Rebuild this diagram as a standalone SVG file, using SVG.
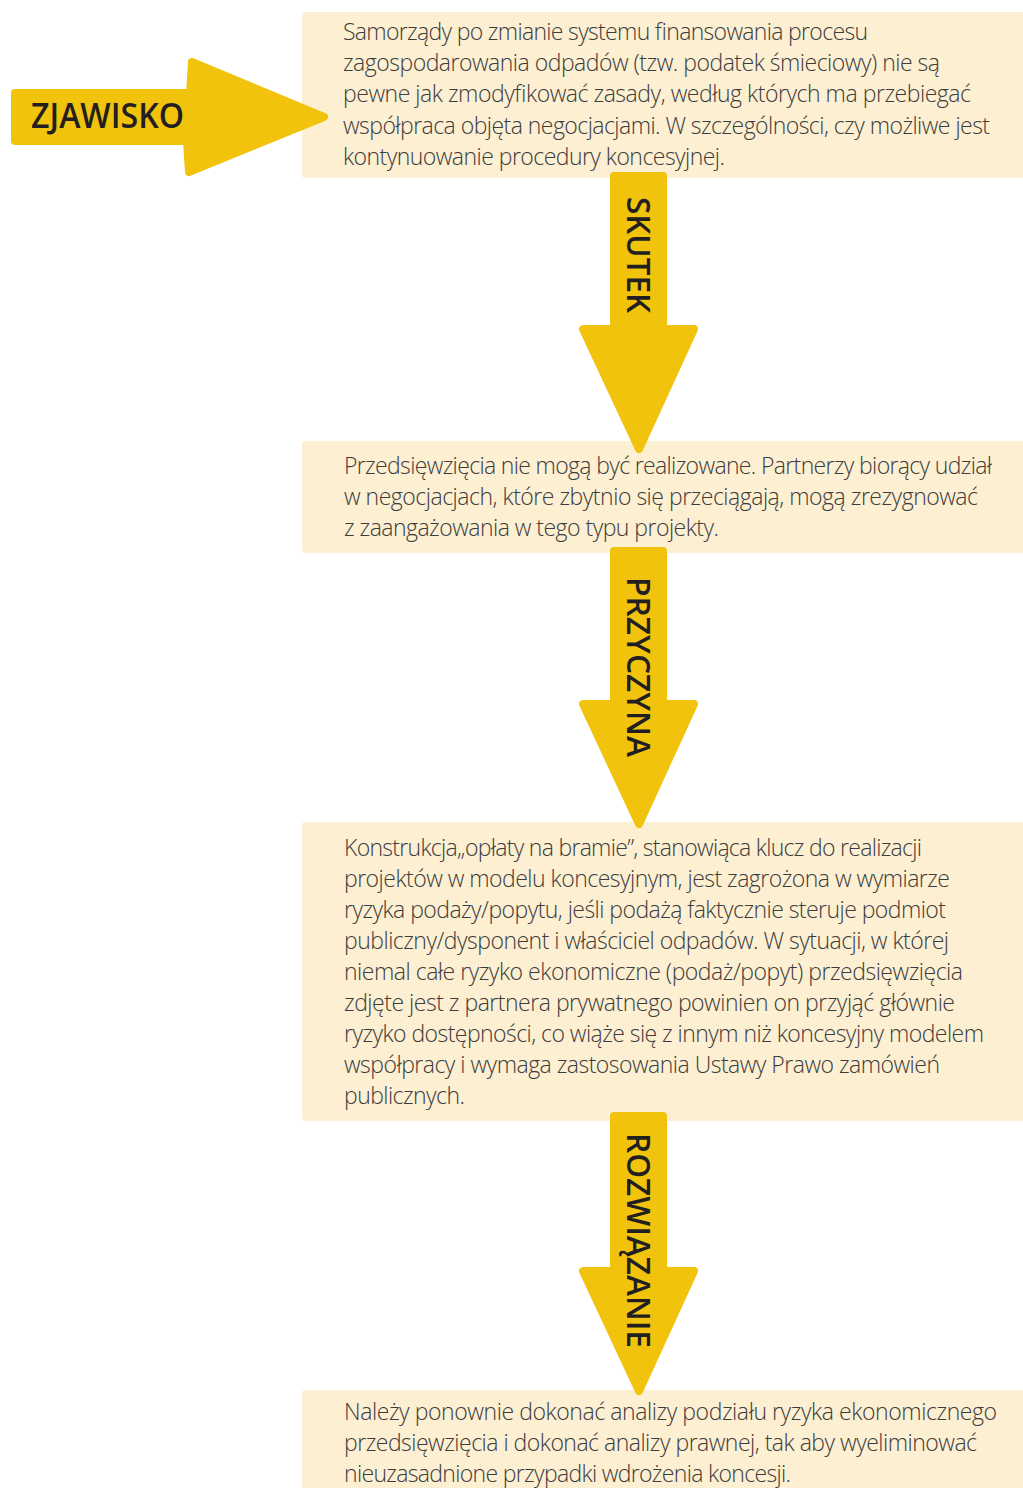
<svg xmlns="http://www.w3.org/2000/svg" width="1023" height="1488" viewBox="0 0 1023 1488">
<style>
.box{fill:#fdefd2}
.arrow{fill:#f1c30c;stroke:#f1c30c;stroke-width:8;stroke-linejoin:round}
.body{font-family:"Open Sans","Liberation Sans",sans-serif;font-weight:300;font-size:23px;fill:#3c3c3c}
.lbl{font-family:"Open Sans","Liberation Sans",sans-serif;font-weight:600;fill:#231f20}
</style>
<rect width="1023" height="1488" fill="#ffffff"/>
<g id="box1">
<rect class="box" x="302" y="12" width="730" height="166" rx="3"/>
<text class="body" lengthAdjust="spacingAndGlyphs">
<tspan x="343" y="40" textLength="525">Samorządy po zmianie systemu finansowania procesu</tspan>
<tspan x="343" y="71" textLength="597">zagospodarowania odpadów (tzw. podatek śmieciowy) nie są</tspan>
<tspan x="343" y="102" textLength="628">pewne jak zmodyfikować zasady, według których ma przebiegać</tspan>
<tspan x="343" y="134" textLength="647">współpraca objęta negocjacjami. W szczególności, czy możliwe jest</tspan>
<tspan x="343" y="165" textLength="382">kontynuowanie procedury koncesyjnej.</tspan>
</text>
</g>
<g id="box2">
<rect class="box" x="302" y="441" width="730" height="112" rx="3"/>
<text class="body" lengthAdjust="spacingAndGlyphs">
<tspan x="344" y="474" textLength="648">Przedsięwzięcia nie mogą być realizowane. Partnerzy biorący udział</tspan>
<tspan x="344" y="505" textLength="634">w negocjacjach, które zbytnio się przeciągają, mogą zrezygnować</tspan>
<tspan x="344" y="536" textLength="375">z zaangażowania w tego typu projekty.</tspan>
</text>
</g>
<g id="box3">
<rect class="box" x="302" y="822" width="730" height="299" rx="3"/>
<text class="body" lengthAdjust="spacingAndGlyphs">
<tspan x="344" y="856" textLength="578">Konstrukcja„opłaty na bramie”, stanowiąca klucz do realizacji</tspan>
<tspan x="344" y="887" textLength="606">projektów w modelu koncesyjnym, jest zagrożona w wymiarze</tspan>
<tspan x="344" y="918" textLength="602">ryzyka podaży/popytu, jeśli podażą faktycznie steruje podmiot</tspan>
<tspan x="344" y="949" textLength="605">publiczny/dysponent i właściciel odpadów. W sytuacji, w której</tspan>
<tspan x="344" y="980" textLength="619">niemal całe ryzyko ekonomiczne (podaż/popyt) przedsięwzięcia</tspan>
<tspan x="344" y="1011" textLength="611">zdjęte jest z partnera prywatnego powinien on przyjąć głównie</tspan>
<tspan x="344" y="1042" textLength="640">ryzyko dostępności, co wiąże się z innym niż koncesyjny modelem</tspan>
<tspan x="344" y="1073" textLength="596">współpracy i wymaga zastosowania Ustawy Prawo zamówień</tspan>
<tspan x="344" y="1104" textLength="121">publicznych.</tspan>
</text>
</g>
<g id="box4">
<rect class="box" x="302" y="1390" width="730" height="110" rx="3"/>
<text class="body" lengthAdjust="spacingAndGlyphs">
<tspan x="344" y="1420" textLength="653">Należy ponownie dokonać analizy podziału ryzyka ekonomicznego</tspan>
<tspan x="344" y="1451" textLength="633">przedsięwzięcia i dokonać analizy prawnej, tak aby wyeliminować</tspan>
<tspan x="344" y="1482" textLength="447">nieuzasadnione przypadki wdrożenia koncesji.</tspan>
</text>
</g>
<g id="connectors">
<g id="zjawisko">
<polygon class="arrow" points="15,93 190,93 192,62 324,117 189,172 187,141 15,141"/>
<text class="lbl" x="31" y="128" font-size="34" font-weight="700" textLength="153" lengthAdjust="spacingAndGlyphs">ZJAWISKO</text>
</g>
<g id="skutek">
<polygon class="arrow" points="614,176 663,176 663,329 694,329 639,449 583,329 614,329"/>
<text class="lbl" font-size="33" transform="translate(627,197) rotate(90)" textLength="116" lengthAdjust="spacingAndGlyphs">SKUTEK</text>
</g>
<g id="przyczyna">
<polygon class="arrow" points="614,551 663,551 663,704 694,704 639,824 583,704 614,704"/>
<text class="lbl" font-size="33" transform="translate(627,577) rotate(90)" textLength="180" lengthAdjust="spacingAndGlyphs">PRZYCZYNA</text>
</g>
<g id="rozwiazanie">
<polygon class="arrow" points="614,1116 663,1116 663,1271 694,1271 639,1391 583,1271 614,1271"/>
<text class="lbl" font-size="33" transform="translate(627,1133) rotate(90)" textLength="215" lengthAdjust="spacingAndGlyphs">ROZWIĄZANIE</text>
</g>
</g>
</svg>
